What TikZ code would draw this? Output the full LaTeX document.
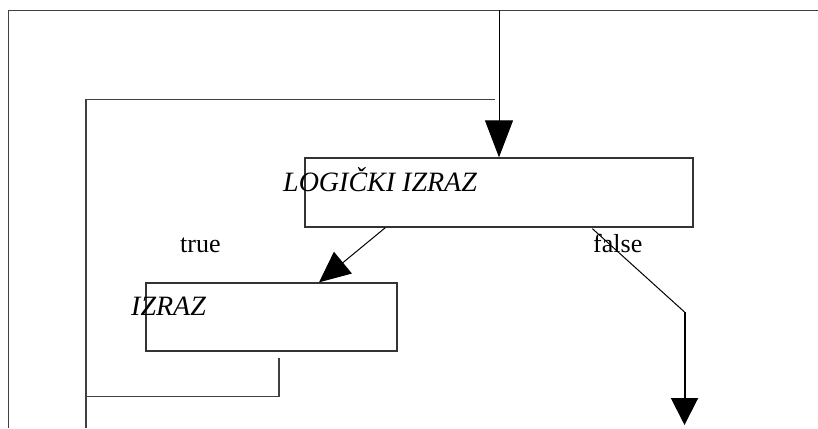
\documentclass[tikz,border=0pt]{standalone}
\usepackage{fontspec}
\setmainfont{Liberation Serif}
\usetikzlibrary{arrows.meta,calc}

\begin{document}
\begin{tikzpicture}[x=1pt,y=-1pt,
  frame/.style={draw=black!75,line width=1.5pt},
  box/.style={draw=black!80,line width=1.3pt,rectangle,inner sep=0pt},
  wire/.style={draw=black,line width=1pt},
  arr/.style={wire,-{Triangle[length=27pt,width=27pt]}},
  bigarr/.style={wire,-{Triangle[length=37pt,width=28pt]}},
  lbl/.style={inner sep=0pt,font=\fontsize{26}{30}\selectfont},
  ilbl/.style={lbl,font=\fontsize{28}{32}\selectfont\itshape}]
\useasboundingbox (0,0) rectangle (818,428);

% outer frame
\coordinate (fA) at (8.7,428);
\coordinate (fB) at (8.7,10.5);
\coordinate (fC) at (818,10.5);
\draw[frame] (fA) -- (fB) -- (fC);

% condition box and body box
\node[box,minimum width=388pt,minimum height=69pt] (cond) at (499,192.5) {};
\node[ilbl,anchor=base west] (condtext) at (283,191) {LOGIČKI IZRAZ};
\node[box,minimum width=251pt,minimum height=68pt] (body) at (271.5,317) {};
\node[ilbl,anchor=base west] (bodytext) at (131,315) {IZRAZ};

% branch labels
\node[lbl,anchor=base west] (truelbl) at (180,252) {true};
\node[lbl,anchor=base west] (falselbl) at (593,252) {false};

% entry arrow
\coordinate (entry) at (499,10.5);
\draw[bigarr] (entry) -- (cond.north);

% loop back from the body to the top
\coordinate (retA) at (279,358);
\coordinate (retB) at (279,396.5);
\coordinate (retC) at (86,396.5);
\draw[frame,line width=1.3pt] (retA) -- (retB) -- (retC);
\coordinate (loopA) at (495,99.3);
\coordinate (loopB) at (86,99.3);
\coordinate (loopC) at (86,428);
\draw[frame,line width=1.3pt] (loopA) -- (loopB) -- (loopC);

% true branch
\coordinate (tstart) at ($(cond.south west)+(81,0)$);
\draw[wire,-{Triangle[length=31pt,width=28pt]}] (tstart) -- ($(body.north)+(47.5,0)$);

% false branch
\coordinate (fstart) at ($(cond.south west)+(288,1)$);
\coordinate (fbend) at (684.5,312);
\coordinate (fend) at (684.5,425);
\draw[wire] (fstart) -- (fbend);
\draw[arr,line width=2pt] (fbend) -- (fend);
\end{tikzpicture}
\end{document}
